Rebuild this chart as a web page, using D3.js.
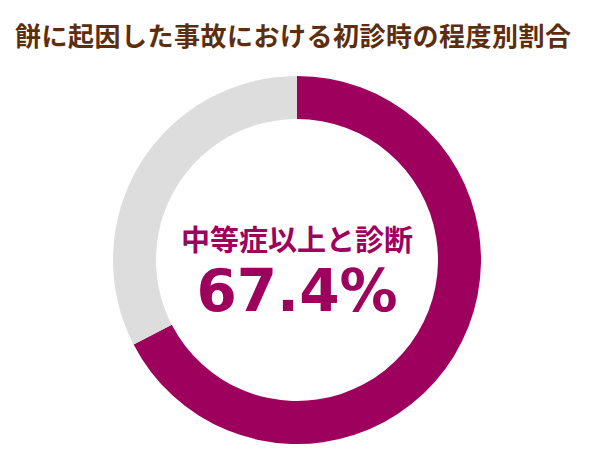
<!DOCTYPE html>
<html><head><meta charset="utf-8">
<script src="https://cdn.jsdelivr.net/npm/d3@7/dist/d3.min.js"></script>
<style>body{margin:0;background:#fff;}svg{display:block;}</style>
</head><body>
<svg id="c" width="600" height="450"></svg>
<script>
const title = "餅に起因した事故における初診時の程度別割合";
const categories = ["中等症以上", "その他"];
const values = [67.4, 32.6];
const colors = ["#9e005d", "#dddddd"];
const centerLabel = "中等症以上と診断";
const centerValue = "67.4%";

const svg = d3.select("#c");
svg.append("text").attr("x", 15).attr("y", 46)
  .attr("font-family", "'Noto Sans CJK JP'").attr("font-weight", "bold")
  .attr("font-size", 26).attr("letter-spacing", 0.5).attr("fill", "#5c2e0e").text(title);

const cx = 297, cy = 260, R = 184, r = 141;
const pie = d3.pie().sort(null).value(d => d)(values);
const arc = d3.arc().innerRadius(r).outerRadius(R);
const g = svg.append("g").attr("transform", `translate(${cx},${cy})`);
g.selectAll("path").data(pie).join("path").attr("d", arc).attr("fill", (d, i) => colors[i]);

g.append("text").attr("text-anchor", "middle").attr("y", -9)
  .attr("font-family", "'Noto Sans CJK JP'").attr("font-weight", "bold")
  .attr("font-size", 29).attr("fill", colors[0]).text(centerLabel);
g.append("text").attr("text-anchor", "middle").attr("y", 51)
  .attr("font-family", "'DejaVu Sans'").attr("font-weight", "bold")
  .attr("font-size", 58).attr("fill", colors[0]).text(centerValue);
</script>
</body></html>
